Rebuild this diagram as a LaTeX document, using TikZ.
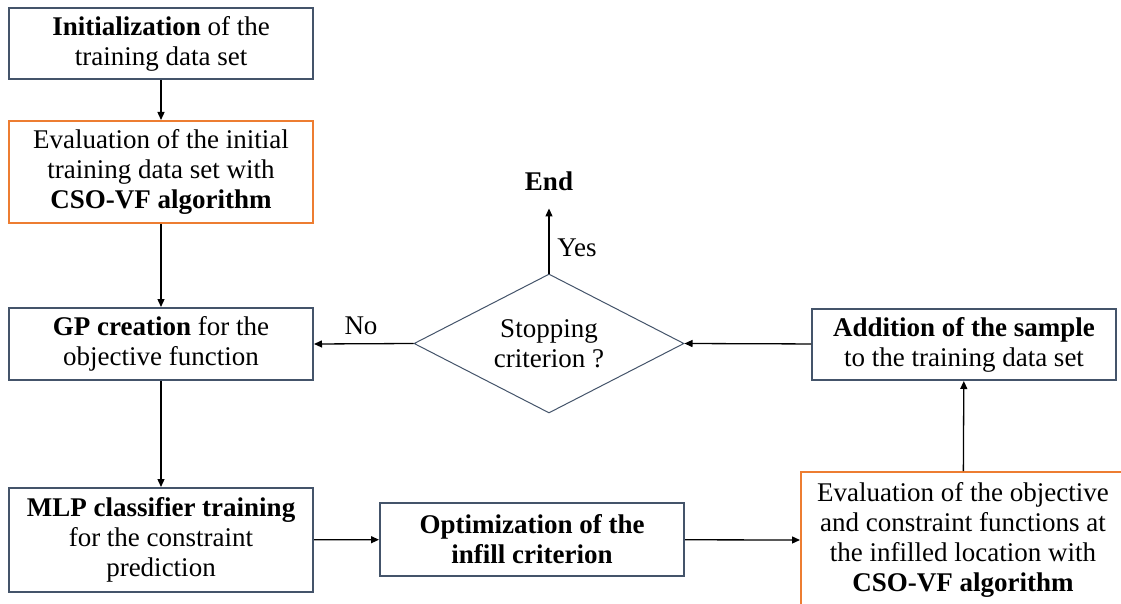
\documentclass[tikz,border=0pt]{standalone}
\usepackage{fontspec}
\setmainfont{Liberation Serif}
\usetikzlibrary{shapes.geometric,arrows.meta}
\definecolor{boxblue}{HTML}{44546A}
\definecolor{boxorange}{HTML}{ED7D31}
\begin{document}
\begin{tikzpicture}[x=1pt,y=-1pt,
  every node/.style={font=\fontsize{27}{30}\selectfont},
  bluebox/.style={draw=boxblue, line width=2pt, rectangle, align=center, inner sep=0pt},
  orangebox/.style={draw=boxorange, line width=2pt, rectangle, align=center, inner sep=0pt},
  arr/.style={-{Triangle[length=8pt,width=7pt]}, line width=1.3pt, black},
]
\clip (0,0) rectangle (1121,604);
\fill[white] (0,0) rectangle (1121,604);

\node[bluebox, minimum width=304pt, minimum height=71pt] (b1) at (161,43.5)
  {\textbf{Initialization} of the\\training data set};
\node[orangebox, minimum width=304pt, minimum height=102pt] (b2) at (161,172)
  {Evaluation of the initial\\training data set with\\\textbf{CSO-VF algorithm}};
\node[bluebox, minimum width=304pt, minimum height=72pt] (b3) at (161,344)
  {\textbf{GP creation} for the\\objective function};
\node[bluebox, minimum width=304pt, minimum height=104pt] (mlp) at (161,540)
  {\textbf{MLP classifier training}\\for the constraint\\prediction};
\node[bluebox, minimum width=304pt, minimum height=73pt] (opt) at (532,539.5)
  {\textbf{Optimization of the}\\\textbf{infill criterion}};
\node[orangebox, minimum width=324pt, minimum height=136pt] (ev) at (963,540)
  {Evaluation of the objective\\and constraint functions at\\the infilled location with\\\textbf{CSO-VF algorithm}};
\node[bluebox, minimum width=304pt, minimum height=71pt] (add) at (964,344.5)
  {\textbf{Addition of the sample}\\to the training data set};
\node[diamond, draw=boxblue, line width=1pt, minimum width=270pt, minimum height=139pt, inner sep=0pt] (dec) at (549,343.5) {};
\node[align=center] (dect) at (dec.center) {Stopping\\criterion ?};
\node[font=\fontsize{27}{30}\selectfont\bfseries, anchor=base, inner sep=0pt] (endn) at (549,191) {End};
\node (yes) at (577,248) {Yes};
\node (no) at (361,326) {No};

\draw[arr] (b1) -- (b2);
\draw[arr] (b2) -- (b3);
\draw[arr] (b3) -- (mlp);
\draw[arr] (mlp) -- (opt);
\draw[arr] (opt) -- (ev.west);
\draw[arr] (ev) -- (add);
\draw[arr] (add) -- (dec.east);
\draw[arr] (dec.west) -- (b3.east);
\draw[arr] (dec.north) -- ([yshift=-17pt]endn.south);
\end{tikzpicture}
\end{document}
